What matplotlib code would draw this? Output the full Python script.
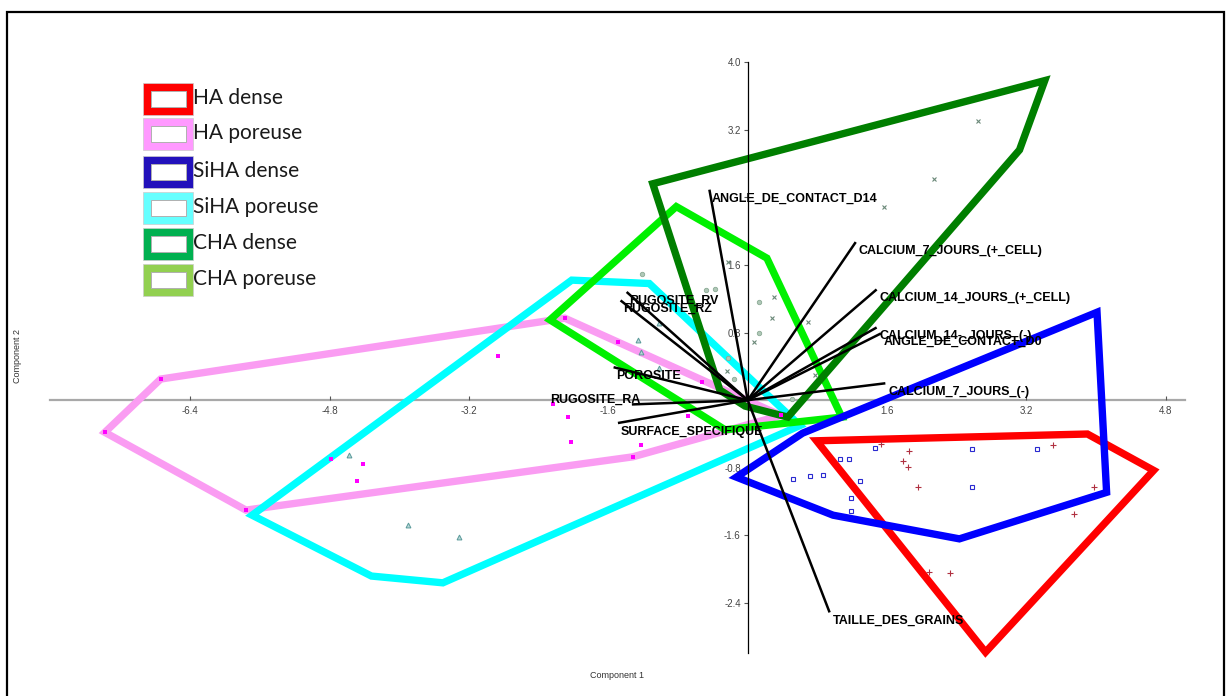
import numpy as np
import matplotlib
matplotlib.use("Agg")
import matplotlib.pyplot as plt
from matplotlib.patches import Polygon, Rectangle

# ---------------- data (PCA scores / convex hulls / loadings) ----------------
groups = ["HA dense", "HA poreuse", "SiHA dense", "SiHA poreuse", "CHA dense", "CHA poreuse"]

# convex hull vertices per group
ha_dense_hull_x = [0.79, 3.90, 4.66, 2.73]
ha_dense_hull_y = [-0.48, -0.40, -0.83, -2.98]
ha_por_hull_x = [-7.38, -6.74, -2.10, 0.38, -1.32, -5.76]
ha_por_hull_y = [-0.38, 0.25, 0.97, -0.18, -0.67, -1.30]
siha_dense_hull_x = [-0.13, 0.63, 4.01, 4.12, 2.43, 0.98]
siha_dense_hull_y = [-0.91, -0.39, 1.04, -1.09, -1.64, -1.36]
siha_por_hull_x = [-2.02, -1.13, 0.60, -3.50, -4.32, -5.69]
siha_por_hull_y = [1.42, 1.38, -0.30, -2.16, -2.08, -1.36]
cha_dense_hull_x = [-1.09, 3.41, 3.12, 0.46, -0.03, -0.32]
cha_dense_hull_y = [2.56, 3.78, 2.96, -0.20, -0.07, 0.12]
cha_por_hull_x = [-0.82, 0.22, 1.08, -0.26, -2.27]
cha_por_hull_y = [2.29, 1.68, -0.20, -0.35, 0.95]

# individual scores
ha_dense_x = [1.53, 1.85, 1.78, 1.84, 1.96, 3.50, 3.97, 3.74, 2.08, 2.32]
ha_dense_y = [-0.52, -0.60, -0.72, -0.79, -1.03, -0.53, -1.03, -1.35, -2.03, -2.04]
ha_por_x = [-7.38, -6.74, -5.76, -2.10, 0.38, -1.32, -2.87, -4.78, -4.42, -4.48,
            -2.24, -2.06, -2.03, -1.22, -0.69, -1.49, -0.52]
ha_por_y = [-0.38, 0.25, -1.30, 0.97, -0.18, -0.67, 0.52, -0.70, -0.76, -0.95,
            -0.05, -0.20, -0.50, -0.53, -0.19, 0.69, 0.21]
siha_dense_x = [1.46, 1.06, 1.16, 2.58, 3.32, 0.52, 0.72, 0.86, 1.29, 2.57, 1.18, 1.18]
siha_dense_y = [-0.56, -0.70, -0.69, -0.58, -0.58, -0.93, -0.90, -0.89, -0.96, -1.03, -1.16, -1.31]
siha_por_x = [-4.58, -3.90, -3.31, -1.26, -1.23, -1.02, -1.02]
siha_por_y = [-0.65, -1.48, -1.62, 0.71, 0.57, 0.91, 0.38]
cha_dense_x = [2.64, 2.14, 1.57, -0.23, 0.30, 0.28, 0.69, 0.07, -0.24, 0.77]
cha_dense_y = [3.30, 2.62, 2.28, 1.63, 1.22, 0.97, 0.92, 0.69, 0.35, 0.30]
cha_por_x = [-1.21, -0.48, -0.37, 0.13, 0.13, -0.23, -0.16, 0.51]
cha_por_y = [1.49, 1.30, 1.32, 1.16, 0.80, 0.50, 0.25, 0.02]

# variable loadings (biplot arrows)
loading_names = ["ANGLE_DE_CONTACT_D14", "CALCIUM_7_JOURS_(+_CELL)", "CALCIUM_14_JOURS_(+_CELL)",
                 "CALCIUM_14-_JOURS_(-)", "ANGLE_DE_CONTACT_D0", "CALCIUM_7_JOURS_(-)",
                 "TAILLE_DES_GRAINS", "SURFACE_SPECIFIQUE", "RUGOSITE_RA", "POROSITE",
                 "RUGOSITE_RV", "RUGOSITE_RZ"]
loading_x = [-0.44, 1.24, 1.48, 1.48, 1.53, 1.58, 0.94, -1.49, -1.33, -1.54, -1.39, -1.46]
loading_y = [2.49, 1.87, 1.31, 0.86, 0.79, 0.20, -2.51, -0.27, -0.05, 0.39, 1.28, 1.18]

x_ticks = [-6.4, -4.8, -3.2, -1.6, 1.6, 3.2, 4.8]
y_ticks = [-2.4, -1.6, -0.8, 0.8, 1.6, 2.4, 3.2, 4.0]
y_tick_labels = ["-2.4", "-1.6", "-0.8", "0.8", "1.6", "", "3.2", "4.0"]

# ---------------- styling ----------------
hull_colors = ["#ff0000", "#fa9cf2", "#0000ff", "#00ffff", "#007f00", "#00f000"]
legend_colors = ["#ff0000", "#ff99ff", "#2211bb", "#66ffff", "#00b050", "#92d050"]

W, H = 1226, 696
fig = plt.figure(figsize=(W / 100, H / 100), dpi=100)
fig.patch.set_facecolor("white")
ax = fig.add_axes([50 / W, 1 - 653 / H, 1135 / W, 591 / H])
ax.set_xlim(-8.01, 5.02)
ax.set_ylim(-2.99, 4.0)
ax.set_facecolor("none")

# axes through origin
for s in ["top", "right"]:
    ax.spines[s].set_visible(False)
ax.spines["left"].set_position(("data", 0))
ax.spines["bottom"].set_position(("data", 0))
ax.spines["left"].set_color("black")
ax.spines["left"].set_linewidth(0.9)
ax.spines["left"].set_zorder(3.5)
ax.spines["bottom"].set_color("#a8a8a8")
ax.spines["bottom"].set_linewidth(1.6)
ax.spines["bottom"].set_zorder(1)

ax.set_xticks(x_ticks)
ax.set_yticks(y_ticks)
ax.set_xticklabels([f"{v:.1f}" for v in x_ticks])
ax.set_yticklabels(y_tick_labels)
ax.tick_params(axis="x", direction="in", length=3, width=0.8, color="#555555",
               labelsize=7, labelcolor="#444444", pad=4)
ax.tick_params(axis="y", direction="out", length=3, width=0.8, color="#555555",
               labelsize=7, labelcolor="#444444", pad=2)
for lab in ax.get_xticklabels() + ax.get_yticklabels():
    lab.set_fontfamily("Liberation Sans")

# hulls
hulls = [(ha_por_hull_x, ha_por_hull_y, 1), (siha_por_hull_x, siha_por_hull_y, 3),
         (cha_por_hull_x, cha_por_hull_y, 5), (cha_dense_hull_x, cha_dense_hull_y, 4),
         (ha_dense_hull_x, ha_dense_hull_y, 0), (siha_dense_hull_x, siha_dense_hull_y, 2)]
for i, (hx, hy, ci) in enumerate(hulls):
    poly = Polygon(np.column_stack([hx, hy]), closed=True, fill=False,
                   edgecolor=hull_colors[ci], linewidth=5.3, joinstyle="miter",
                   zorder=2 + i * 0.01, clip_on=False)
    ax.add_patch(poly)

# scores
ax.plot(ha_dense_x, ha_dense_y, "+", color="#b03040", ms=4, mew=0.8, zorder=3, linestyle="none")
ax.plot(ha_por_x, ha_por_y, "s", color="#ff00ff", ms=2.5, mew=0, zorder=3, linestyle="none")
ax.plot(siha_dense_x, siha_dense_y, "s", mfc="none", mec="#2a2ad0", ms=3.3, mew=0.8, zorder=3,
        linestyle="none")
ax.plot(siha_por_x, siha_por_y, "^", mfc="#b8d8d8", mec="#5a9a9a", ms=3.5, mew=0.7, zorder=3,
        linestyle="none")
ax.plot(cha_dense_x, cha_dense_y, "x", color="#6a8878", ms=3.3, mew=0.8, zorder=3, linestyle="none")
ax.plot(cha_por_x, cha_por_y, "o", mfc="#b0c8b8", mec="#8aaa94", ms=3.2, mew=0.6, zorder=3,
        linestyle="none")

# loadings
for name, lx, ly in zip(loading_names, loading_x, loading_y):
    ax.plot([0, lx], [0, ly], color="black", lw=1.8, zorder=4, solid_capstyle="butt")
    if name == "RUGOSITE_RA":
        ax.annotate(name, (lx, ly), xytext=(6, 1.5), textcoords="offset points",
                    ha="right", va="baseline", fontsize=9, fontweight="bold",
                    family="Liberation Sans", zorder=5)
    else:
        ax.annotate(name, (lx, ly), xytext=(2, -8.5), textcoords="offset points",
                    ha="left", va="baseline", fontsize=9, fontweight="bold",
                    family="Liberation Sans", zorder=5)

# axis titles
fig.text(617 / W, 1 - 676 / H, "Component 1", ha="center", va="center", fontsize=6.5,
         color="#333333", family="Liberation Sans")
fig.text(18 / W, 1 - 356 / H, "Component 2", ha="center", va="center", fontsize=6.5,
         color="#333333", family="Liberation Sans", rotation=90)


# legend (figure pixel coordinates)
def px_rect(x0, y0, x1, y1, **kw):
    return Rectangle((x0 / W, 1 - y1 / H), (x1 - x0) / W, (y1 - y0) / H,
                     transform=fig.transFigure, **kw)


legend_tops = [83, 118, 156, 192, 228, 264]
for name, col, top in zip(groups, legend_colors, legend_tops):
    bot = top + 32
    fig.patches.append(px_rect(143, top, 193, bot, facecolor=col, edgecolor="#cccccc", lw=0.5))
    fig.patches.append(px_rect(150.5, top + 8, 185.5, bot - 8, facecolor="white",
                               edgecolor="#b0b0b0", lw=0.7))
    fig.text(193 / W, 1 - (top + 15) / H, name, ha="left", va="center", fontsize=15,
             color="#1a1a1a", family="Lato")

# outer frame
fig.patches.append(Rectangle((7 / W, -0.05), (1223.5 - 7) / W, 1.05 - 12 / H,
                             transform=fig.transFigure, fill=False, edgecolor="black",
                             lw=1.6))

fig.savefig("out.png", dpi=100)
